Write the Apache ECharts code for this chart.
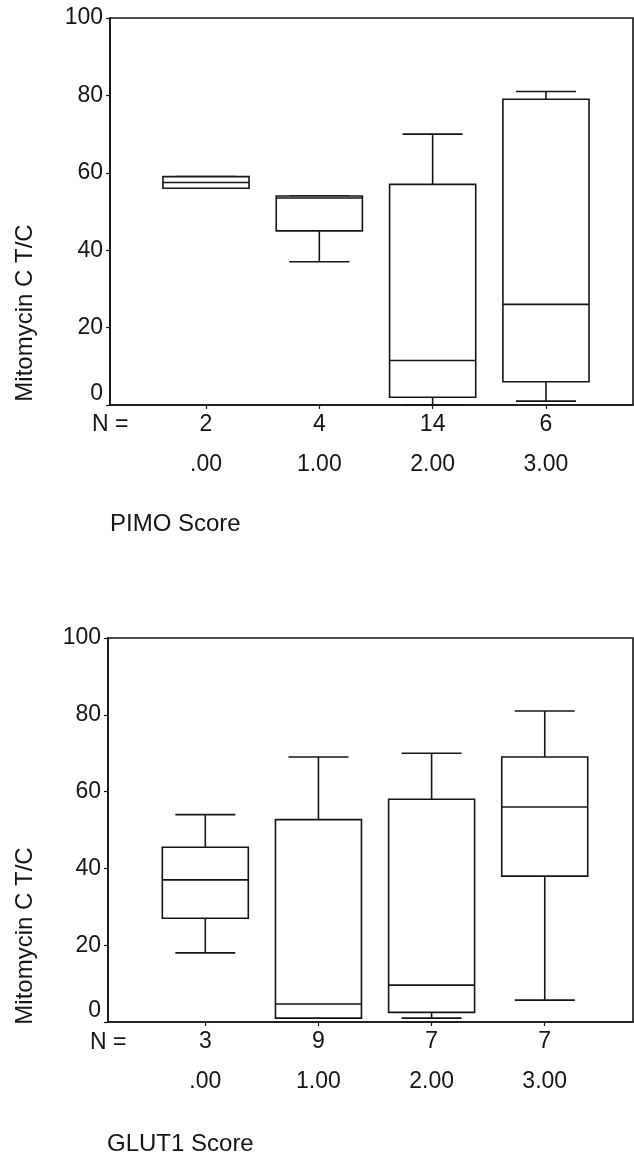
<!DOCTYPE html>
<html>
<head>
<meta charset="utf-8">
<script src="https://cdn.jsdelivr.net/npm/echarts@6/dist/echarts.min.js"></script>
<style>
  html, body { margin: 0; padding: 0; background: #fff; }
  #main { width: 634px; height: 1157px; }
</style>
</head>
<body>
<div id="main"></div>
<script>
var chartDom = document.getElementById('main');
var myChart = echarts.init(chartDom);

// score groups on the x axis
var scoreLabels = ['.00', '1.00', '2.00', '3.00'];
var scoreValues = [0, 1, 2, 3];

// case counts under each box
var pimoN = [2, 4, 14, 6];
var glutN = [3, 9, 7, 7];

// box summaries: [min, Q1, median, Q3, max]
var pimoBoxes = [
  [56, 56, 57.5, 59, 59],
  [37, 45, 53.5, 54, 54],
  [0, 2, 11.5, 57, 70],
  [1, 6, 26, 79, 81]
];
var glutBoxes = [
  [18, 27, 37, 45.5, 54],
  [1, 1, 4.7, 52.7, 69],
  [1, 2.5, 9.6, 58, 70],
  [5.7, 38, 56, 69, 81]
];

var yTicks = [0, 20, 40, 60, 80, 100];

var ink = '#151515';
var font = 'Liberation Sans, Arial, sans-serif';

function boxData(boxes) {
  return boxes.map(function (b, i) {
    return [scoreValues[i]].concat(b);
  });
}

function renderBox(params, api) {
  var x = api.value(0);
  var pMin = api.coord([x, api.value(1)]);
  var pQ1 = api.coord([x, api.value(2)]);
  var pMed = api.coord([x, api.value(3)]);
  var pQ3 = api.coord([x, api.value(4)]);
  var pMax = api.coord([x, api.value(5)]);
  var unit = api.size([1, 0])[0];
  var half = unit * 0.38;
  var cap = unit * 0.265;
  var cx = pQ1[0];
  var line = { stroke: ink, lineWidth: 1.6 };
  return {
    type: 'group',
    children: [
      { type: 'line', shape: { x1: cx, y1: pMax[1], x2: cx, y2: pQ3[1] }, style: line },
      { type: 'line', shape: { x1: cx, y1: pQ1[1], x2: cx, y2: pMin[1] }, style: line },
      { type: 'line', shape: { x1: cx - cap, y1: pMax[1], x2: cx + cap, y2: pMax[1] }, style: line },
      { type: 'line', shape: { x1: cx - cap, y1: pMin[1], x2: cx + cap, y2: pMin[1] }, style: line },
      {
        type: 'rect',
        shape: { x: cx - half, y: pQ3[1], width: half * 2, height: pQ1[1] - pQ3[1] },
        style: { fill: '#fff', stroke: ink, lineWidth: 1.6 }
      },
      { type: 'line', shape: { x1: cx - half, y1: pMed[1], x2: cx + half, y2: pMed[1] }, style: line }
    ]
  };
}

function yAxisFor(gridIndex) {
  return {
    type: 'value',
    gridIndex: gridIndex,
    min: 0,
    max: 100,
    interval: 20,
    axisLine: { show: true, onZero: false, lineStyle: { color: ink, width: 1.6 } },
    axisTick: { show: true, length: 4, lineStyle: { color: ink, width: 1.2 } },
    splitLine: { show: false },
    axisLabel: {
      color: ink,
      fontFamily: font,
      fontSize: 23,
      margin: 7,
      formatter: function (v) { return v === 0 ? '{z|0}' : String(v); },
      rich: { z: { fontFamily: font, fontSize: 23, color: ink, padding: [0, 0, 22, 0] } }
    }
  };
}

function nAxisFor(gridIndex, counts, min, max) {
  return {
    type: 'value',
    gridIndex: gridIndex,
    position: 'bottom',
    min: min,
    max: max,
    axisLine: { show: true, onZero: false, lineStyle: { color: ink, width: 1.6 } },
    axisTick: { show: true, length: 4, customValues: scoreValues, lineStyle: { color: ink, width: 1.2 } },
    splitLine: { show: false },
    axisLabel: {
      customValues: scoreValues,
      color: ink,
      fontFamily: font,
      fontSize: 23,
      margin: 8,
      formatter: function (v) { return String(counts[Math.round(v)]); }
    }
  };
}

function scoreAxisFor(gridIndex, min, max) {
  return {
    type: 'value',
    gridIndex: gridIndex,
    position: 'bottom',
    min: min,
    max: max,
    axisLine: { show: false, onZero: false },
    axisTick: { show: false },
    splitLine: { show: false },
    axisLabel: {
      customValues: scoreValues,
      color: ink,
      fontFamily: font,
      fontSize: 23,
      margin: 48,
      formatter: function (v) { return scoreLabels[Math.round(v)]; }
    }
  };
}

var topMin = -0.847, topMax = 3.768;
var botMin = -0.86, botMax = 3.78;

var option = {
  animation: false,
  backgroundColor: '#fff',
  title: [
    { text: 'PIMO Score', left: 110, top: 512, padding: 0,
      textStyle: { fontFamily: font, fontSize: 24, fontWeight: 'normal', color: ink } },
    { text: 'GLUT1 Score', left: 107, top: 1132, padding: 0,
      textStyle: { fontFamily: font, fontSize: 24, fontWeight: 'normal', color: ink } }
  ],
  grid: [
    { left: 110, right: 1, top: 18, height: 387, show: true, borderColor: ink, borderWidth: 1.6 },
    { left: 108, right: 1, top: 638, height: 384, show: true, borderColor: ink, borderWidth: 1.6 }
  ],
  xAxis: [
    nAxisFor(0, pimoN, topMin, topMax),
    scoreAxisFor(0, topMin, topMax),
    nAxisFor(1, glutN, botMin, botMax),
    scoreAxisFor(1, botMin, botMax)
  ],
  yAxis: [yAxisFor(0), yAxisFor(1)],
  graphic: [
    { type: 'text', x: 92, y: 425, style: { text: 'N =', fill: ink, font: '23px ' + font, textVerticalAlign: 'middle' } },
    { type: 'text', x: 90, y: 1043, style: { text: 'N =', fill: ink, font: '23px ' + font, textVerticalAlign: 'middle' } },
    { type: 'text', x: 25, y: 313, rotation: Math.PI / 2,
      style: { text: 'Mitomycin C T/C', fill: ink, font: '24px ' + font, textAlign: 'center', textVerticalAlign: 'middle' } },
    { type: 'text', x: 25, y: 936, rotation: Math.PI / 2,
      style: { text: 'Mitomycin C T/C', fill: ink, font: '24px ' + font, textAlign: 'center', textVerticalAlign: 'middle' } }
  ],
  series: [
    {
      type: 'custom',
      xAxisIndex: 0,
      yAxisIndex: 0,
      renderItem: renderBox,
      encode: { x: 0, y: [1, 2, 3, 4, 5] },
      data: boxData(pimoBoxes)
    },
    {
      type: 'custom',
      xAxisIndex: 2,
      yAxisIndex: 1,
      renderItem: renderBox,
      encode: { x: 0, y: [1, 2, 3, 4, 5] },
      data: boxData(glutBoxes)
    }
  ]
};

myChart.setOption(option);
</script>
</body>
</html>
